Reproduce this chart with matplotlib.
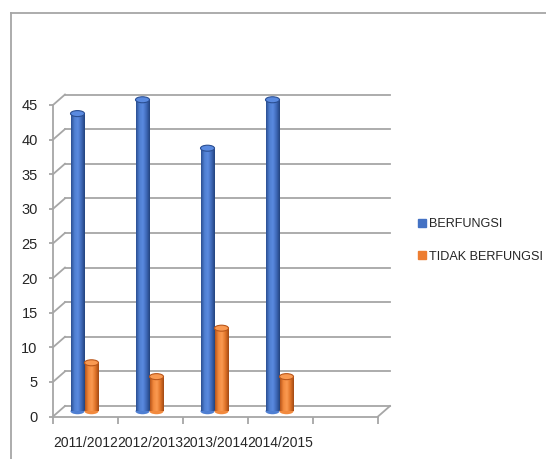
import matplotlib
matplotlib.use('Agg')
import matplotlib.pyplot as plt
import numpy as np
from matplotlib.colors import LinearSegmentedColormap
from matplotlib.patches import Ellipse
from matplotlib.lines import Line2D
from matplotlib import font_manager

names = {f.name for f in font_manager.fontManager.ttflist}
fams = [f for f in ['Liberation Sans Narrow', 'DejaVu Sans Condensed', 'Liberation Sans'] if f in names]
plt.rcParams['font.family'] = fams + ['DejaVu Sans']

# data
tahun = ['2011/2012', '2012/2013', '2013/2014', '2014/2015']
berfungsi = [43, 45, 38, 45]
tidak_berfungsi = [7, 5, 12, 5]
series_names = ['BERFUNGSI', 'TIDAK BERFUNGSI']
y_ticks = list(range(0, 50, 5))
n_slots = 5

colors = ['#4472C4', '#ED7D31']
shades = [
    ['#2B4F92', '#4F7FD2', '#5A8AE0', '#3F69B8', '#23447F'],
    ['#B9561A', '#F28A3E', '#FA9A52', '#E07428', '#A24A14'],
]
grid_c = '#A6A6A6'
txt_c = '#262626'

fig = plt.figure(figsize=(5.46, 4.59), dpi=100)
W, H = 546, 459
ax = fig.add_axes([53 / W, (H - 416.5) / H, 325 / W, 311.5 / H])
ax.set_xlim(0, n_slots)
ax.set_ylim(0, 45)

narrow = fams[0] if fams else 'DejaVu Sans'
fs = 11 if narrow in ('Liberation Sans Narrow', 'DejaVu Sans Condensed') else 10

# depth of the 3d box in data units
dx = 12 / 65
dy = 10.5 * 45 / 311.5

# back wall gridlines and left wall diagonals
for v in y_ticks:
    ax.plot([dx, n_slots + dx], [v + dy, v + dy], color=grid_c, lw=1.3, clip_on=False, zorder=1)
    ax.plot([0, dx], [v, v + dy], color=grid_c, lw=1.3, clip_on=False, zorder=1)
# floor right edge
ax.plot([n_slots, n_slots + dx], [0, dy], color=grid_c, lw=1.3, clip_on=False, zorder=1)

# cylinders
bar_w = 14 / 65
offsets = [-14 / 65, 0.0]
ell_h = 6 * 45 / 311.5
x = np.arange(len(tahun)) + 0.5 + dx / 2
for s, vals in enumerate([berfungsi, tidak_berfungsi]):
    cmap = LinearSegmentedColormap.from_list('c%d' % s, shades[s])
    grad = np.linspace(0, 1, 64).reshape(1, -1)
    for i, v in enumerate(vals):
        xc = x[i] + offsets[s]
        y0 = dy / 2
        bars = ax.bar(xc, v, width=bar_w, bottom=y0, color=colors[s], clip_on=False, zorder=3 + s)
        rect = bars[0]
        img = ax.imshow(grad, extent=[xc - bar_w / 2, xc + bar_w / 2, y0, y0 + v],
                        aspect='auto', cmap=cmap, zorder=3 + s, clip_on=True)
        img.set_clip_path(rect)
        # rounded bottom
        bot = Ellipse((xc, y0), bar_w, ell_h, facecolor=shades[s][1], edgecolor='none',
                      clip_on=False, zorder=2.9 + s)
        ax.add_patch(bot)
        # top cap
        top = Ellipse((xc, y0 + v), bar_w, ell_h, facecolor=shades[s][2],
                      edgecolor=shades[s][0], lw=0.8, clip_on=False, zorder=3.5 + s)
        ax.add_patch(top)

# axes
for side in ['top', 'right']:
    ax.spines[side].set_visible(False)
ax.spines['left'].set_color(grid_c)
ax.spines['bottom'].set_color(grid_c)
ax.spines['left'].set_linewidth(1.3)
ax.spines['bottom'].set_linewidth(1.3)
ax.set_yticks(y_ticks)
ax.tick_params(axis='y', length=3, color=grid_c, width=1.3, pad=8, labelsize=fs + 0.5, labelcolor=txt_c)
ax.set_xticks(range(n_slots + 1))
ax.set_xticklabels([])
ax.set_xticks(np.arange(len(tahun)) + 0.5, minor=True)
ax.set_xticklabels(tahun, minor=True)
ax.tick_params(axis='x', which='major', length=5, color=grid_c, width=1.3)
ax.tick_params(axis='x', which='minor', length=0, pad=14, labelsize=fs, labelcolor=txt_c)

# legend
handles = [Line2D([], [], marker='s', ls='none', markersize=5.5, color=c) for c in colors]
fig.legend(handles, series_names, loc='center left', bbox_to_anchor=(418 / W, 1 - 240.5 / H),
           frameon=False, fontsize=fs - 0.9, labelspacing=1.6, handletextpad=0.25,
           handlelength=0.6, borderpad=0, borderaxespad=0, labelcolor=txt_c)

# outer chart frame
fig.add_artist(Line2D([11 / W, 1], [1 - 13 / H, 1 - 13 / H], color=grid_c, lw=1.3))
fig.add_artist(Line2D([11 / W, 11 / W], [0, 1 - 13 / H], color=grid_c, lw=1.3))

fig.savefig('out.png', dpi=100)
